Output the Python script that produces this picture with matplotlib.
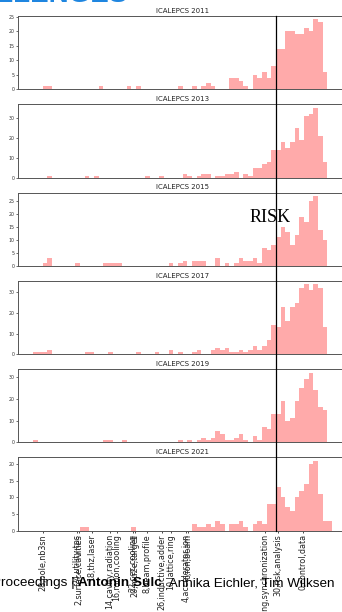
import matplotlib
matplotlib.use("Agg")
import matplotlib.pyplot as plt
import matplotlib.transforms as mtransforms
from matplotlib.lines import Line2D
from matplotlib.ticker import MultipleLocator
import numpy as np

# ---------------- data ----------------
titles = ["ICALEPCS 2011", "ICALEPCS 2013", "ICALEPCS 2015",
          "ICALEPCS 2017", "ICALEPCS 2019", "ICALEPCS 2021"]

counts_2011 = [0, 0, 1, 1, 0, 0, 0, 0, 0, 0,
               0, 0, 0, 0, 1, 0, 0, 0, 0, 0,
               1, 0, 1, 0, 0, 0, 0, 0, 0, 0,
               0, 1, 0, 0, 1, 0, 1, 2, 1, 0,
               0, 0, 4, 4, 3, 1, 0, 5, 4, 6,
               4, 8, 14, 14, 20, 20, 19, 19, 21, 20,
               24, 23, 6, 0]
counts_2013 = [0, 0, 0, 1, 0, 0, 0, 0, 0, 0,
               0, 1, 0, 1, 0, 0, 0, 0, 0, 0,
               0, 0, 0, 0, 1, 0, 0, 1, 0, 0,
               0, 0, 2, 1, 0, 1, 2, 2, 0, 1,
               1, 2, 2, 3, 0, 2, 1, 5, 5, 7,
               8, 14, 14, 18, 15, 18, 25, 19, 31, 32,
               35, 21, 8, 0]
counts_2015 = [0, 0, 1, 3, 0, 0, 0, 0, 0, 1,
               0, 0, 0, 0, 0, 1, 1, 1, 1, 0,
               0, 0, 0, 0, 0, 0, 0, 0, 0, 1,
               0, 1, 2, 0, 2, 2, 2, 0, 0, 3,
               0, 1, 0, 1, 3, 2, 2, 3, 1, 7,
               6, 8, 11, 15, 13, 8, 12, 19, 17, 25,
               27, 14, 10, 0]
counts_2017 = [1, 1, 1, 2, 0, 0, 0, 0, 0, 0,
               0, 1, 1, 0, 0, 0, 1, 0, 0, 0,
               0, 0, 1, 0, 0, 0, 1, 0, 0, 2,
               0, 1, 0, 0, 1, 2, 0, 0, 2, 3,
               2, 3, 1, 1, 2, 1, 2, 4, 2, 4,
               7, 14, 13, 23, 16, 23, 25, 32, 34, 31,
               34, 32, 13, 0]
counts_2019 = [1, 0, 0, 0, 0, 0, 0, 0, 0, 0,
               0, 0, 0, 0, 0, 1, 1, 0, 0, 1,
               0, 0, 0, 0, 0, 0, 0, 0, 0, 0,
               0, 1, 0, 1, 0, 1, 2, 1, 2, 5,
               4, 1, 1, 2, 4, 1, 0, 3, 1, 7,
               6, 13, 13, 19, 10, 11, 19, 25, 29, 32,
               24, 16, 15, 0]
counts_2021 = [0, 0, 0, 0, 0, 0, 0, 0, 0, 0,
               1, 1, 0, 0, 0, 0, 0, 0, 0, 0,
               0, 1, 0, 0, 0, 0, 0, 0, 0, 0,
               0, 0, 0, 0, 2, 1, 1, 2, 1, 3,
               2, 0, 2, 2, 3, 1, 0, 2, 3, 2,
               8, 8, 13, 10, 7, 6, 10, 12, 14, 20,
               21, 11, 3, 3]
all_counts = [counts_2011, counts_2013, counts_2015,
              counts_2017, counts_2019, counts_2021]
y_steps = [5, 10, 5, 10, 10, 5]

topic_positions = [2.0, 9.29, 9.79, 12.5, 16.43, 17.86, 21.29, 21.79,
                   24.29, 27.64, 29.5, 32.71, 33.2, 49.64, 52.5, 57.86]
topic_labels = ["28,pole,nb3sn", "24,utility,tps", "2,surface,cavities",
                "18,thz,laser", "14,cavity,radiation", "16,muon,cooling",
                "22,cec,cooling", "20,mu2e,target", "8,beam,profile",
                "26,inductive,adder", "10,lattice,ring", "4,accelerator,ion",
                "6,ion,beam", "12,timing,synchronization", "30,risk,analysis",
                "0,control,data"]
risk_x = 52.0

# ---------------- figure ----------------
W, H = 342, 612
fig = plt.figure(figsize=(W / 100, H / 100), dpi=100)

left_px, width_px = 18.3, 328.5
top0, pitch, h_px = 16.0, 88.26, 73.3
bar_color = "#ffaaaa"
spine_color = "#555555"

axes = []
for i, (title, counts) in enumerate(zip(titles, all_counts)):
    top = top0 + pitch * i
    ax = fig.add_axes([left_px / W, 1 - (top + h_px) / H, width_px / W, h_px / H])
    bins = np.arange(len(counts))
    ax.bar(bins, counts, width=1.0, align="edge", color=bar_color, linewidth=0)
    ax.set_title(title, fontsize=5, pad=2.2, color="#222222")
    ax.yaxis.set_major_locator(MultipleLocator(y_steps[i]))
    ax.tick_params(axis="y", labelsize=3.4, length=1.5, width=0.5, pad=1,
                   colors="#333333")
    for s in ax.spines.values():
        s.set_color(spine_color)
        s.set_linewidth(0.7)
    if i < len(titles) - 1:
        ax.set_xticks([])
    else:
        ax.set_xticks(topic_positions)
        ax.set_xticklabels(topic_labels, rotation=90, fontsize=5.8,
                           color="#222222")
        ax.tick_params(axis="x", length=1.5, width=0.5, pad=1)
    axes.append(ax)

# RISK annotation in the 2015 panel
axes[2].text(50.7, 18.8, "RISK", fontsize=13, family="Liberation Serif",
             ha="center", va="center", color="black")

# vertical line spanning all panels
fig.canvas.draw()
b_last = axes[-1].get_position().y0
t_first = axes[0].get_position().y1
trans = mtransforms.blended_transform_factory(axes[-1].transData, fig.transFigure)
fig.add_artist(Line2D([risk_x, risk_x], [b_last, t_first], transform=trans,
                      color="black", linewidth=0.9))

# top header fragment (cut off)
fig.text(128 / W, 1 - 2.5 / H, "CHALLENGES", fontsize=20, fontweight="bold",
         family="Liberation Sans", color="#1f86e0", ha="right", va="baseline")

# footer
renderer = fig.canvas.get_renderer()
y_base = 1 - 586 / H
x0 = 0.8 / W
fs = 9.7
fig.text(x0, y_base, "P", fontsize=fs, family="Liberation Sans", ha="right",
         va="baseline", color="black")
pieces = [("roceedings | ", "normal"), ("Antonin Sulc", "bold"),
          (", Annika Eichler, Tim Wilksen", "normal")]
x = x0
for txt, wt in pieces:
    t = fig.text(x, y_base, txt, fontsize=fs, family="Liberation Sans",
                 fontweight=wt, ha="left", va="baseline", color="black")
    bb = t.get_window_extent(renderer=renderer)
    x += bb.width / W

fig.savefig("out.png", dpi=100)
